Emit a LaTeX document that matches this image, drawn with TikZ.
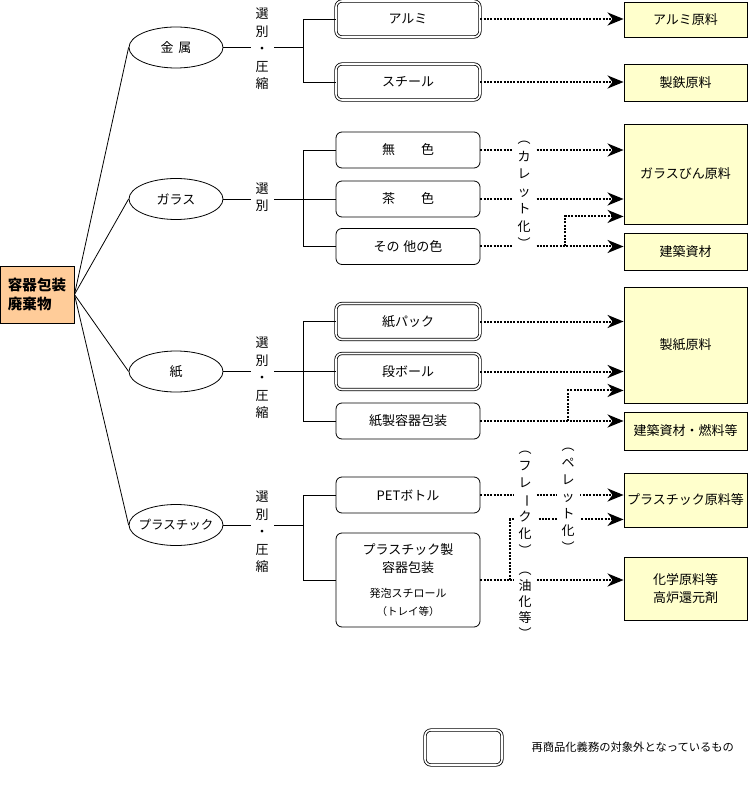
\documentclass[tikz,border=0pt]{standalone}
\usepackage{fontspec}
\setmainfont{Noto Sans CJK JP}
\usepackage{xcolor}
\usetikzlibrary{calc, shapes.geometric, positioning, arrows.meta}

\definecolor{rootorange}{HTML}{FFCC99}
\definecolor{goalyellow}{HTML}{FFFFCC}

\begin{document}
\begin{tikzpicture}[x=1pt, y=-1pt,
    font=\fontsize{13}{17.5}\selectfont,
    hub/.style={ellipse, draw, line width=0.8pt, inner sep=0pt,
        minimum width=94pt, minimum height=41pt},
    item/.style={draw, line width=0.8pt, rounded corners=6pt, inner sep=0pt,
        minimum width=144pt, minimum height=36pt, align=center},
    nosubsidy/.style={item, double, double distance=1.6pt},
    goal/.style={draw, line width=0.9pt, fill=goalyellow, inner sep=0pt,
        minimum width=123pt, align=center},
    vtext/.style={fill=white, inner xsep=5pt, inner ysep=0pt, align=center},
    link/.style={line width=0.8pt},
    flow/.style={line width=2pt, dash pattern=on 2pt off 1.3pt,
        -{Stealth[length=16pt, width=13pt, inset=5pt]}}]

    \useasboundingbox (0,0) rectangle (748,791);

    % =================================================================
    % 1. ROOT AND THE FOUR MATERIAL GROUPS
    % =================================================================
    \node[draw, line width=0.9pt, fill=rootorange, minimum width=74pt,
        minimum height=57pt, align=left, inner sep=3pt,
        font=\fontsize{14.5}{19}\selectfont\bfseries] (Root) at (37,294.5) {容器包装\\廃棄物};

    % ellipses are drawn empty, the text sits in a centre label
    \node[hub, label=center:{金\hspace{5pt}属}] (Metal) at (176,47.5) {};
    \node[hub, label=center:{ガラス}] (Glass) at (176,199) {};
    \node[hub, label=center:{紙}] (Paper) at (176,371.5) {};
    \node[hub, label={[font=\fontsize{12.5}{15}\selectfont]center:{プラスチック}}] (Plastic) at (176,525) {};

    \draw[link] (Root.east) -- (Metal.west);
    \draw[link] (Root.east) -- (Glass.west);
    \draw[link] (Root.east) -- (Paper.west);
    \draw[link] (Root.east) -- (Plastic.west);

    % =================================================================
    % 2. SORTED ITEMS (double frame = not subject to recycling duty)
    % =================================================================
    \node[nosubsidy] (Alumi) at (408,19) {アルミ};
    \node[nosubsidy] (Steel) at (408,82) {スチール};

    \node[item] (Clear) at (408,150) {無\hspace{26pt}色};
    \node[item] (Brown) at (408,199) {茶\hspace{26pt}色};
    \node[item] (Other) at (408,246.5) {その\hspace{4pt}他の色};

    \node[nosubsidy] (Carton) at (408,321.5) {紙パック};
    \node[nosubsidy] (Cardboard) at (408,371.5) {段ボール};
    \node[item] (PaperPack) at (408,421) {紙製容器包装};

    \node[item] (Pet) at (408,495) {PETボトル};
    \node[item, minimum height=94pt] (PlasticPack) at (408,580)
        {プラスチック製\\容器包装\\[8pt]{\fontsize{11}{16}\selectfont 発泡スチロール}\\{\fontsize{10.5}{16}\selectfont （トレイ等）}};

    % bus lines from each group to its items
    \coordinate (MetalBus) at (303,47.5);
    \coordinate (GlassBus) at (303,199);
    \coordinate (PaperBus) at (303,371.5);
    \coordinate (PlasticBus) at (303,525);

    \draw[link] (Metal.east) -- (MetalBus);
    \draw[link] (Alumi.west) -| (MetalBus);
    \draw[link] (Steel.west) -| (MetalBus);

    \draw[link] (Glass.east) -- (GlassBus);
    \draw[link] (Clear.west) -| (GlassBus);
    \draw[link] (Brown.west) -- (GlassBus);
    \draw[link] (Other.west) -| (GlassBus);

    \draw[link] (Paper.east) -- (PaperBus);
    \draw[link] (Carton.west) -| (PaperBus);
    \draw[link] (Cardboard.west) -- (PaperBus);
    \draw[link] (PaperPack.west) -| (PaperBus);

    \draw[link] (Plastic.east) -- (PlasticBus);
    \draw[link] (Pet.west) -| (PlasticBus);
    \draw[link] (PlasticPack.west) -| (PlasticBus);

    % =================================================================
    % 3. RECYCLED PRODUCTS
    % =================================================================
    \node[goal, minimum height=35pt] (AlumiGoal) at (685.5,19.5) {アルミ原料};
    \node[goal, minimum height=37pt] (SteelGoal) at (685.5,82.5) {製鉄原料};
    \node[goal, minimum height=100pt] (GlassGoal) at (685.5,174) {ガラスびん原料};
    \node[goal, minimum height=37pt] (BuildGoal) at (685.5,251.5) {建築資材};
    \node[goal, minimum height=116pt] (PaperGoal) at (685.5,345) {製紙原料};
    \node[goal, minimum height=38pt] (FuelGoal) at (685.5,431) {建築資材・燃料等};
    \node[goal, minimum height=54pt] (PlasticGoal) at (685.5,500) {プラスチック原料等};
    \node[goal, minimum height=63pt] (ChemGoal) at (685.5,588.5) {化学原料等\\高炉還元剤};

    % =================================================================
    % 4. DOTTED FLOWS
    % =================================================================
    \draw[flow] (Alumi.east) -- (Alumi.east -| AlumiGoal.west);
    \draw[flow] (Steel.east) -- (Steel.east -| SteelGoal.west);

    \draw[flow] (Clear.east) -- (Clear.east -| GlassGoal.west);
    \draw[flow] (Brown.east) -- (Brown.east -| GlassGoal.west);
    \draw[flow] (Other.east) -- (Other.east -| BuildGoal.west);
    \coordinate (GlassSplit) at (Other.east -| 565,0);
    \coordinate (GlassIn) at ($(GlassGoal.south west)+(0,-8)$);
    \draw[flow] (GlassSplit) |- (GlassIn);

    \draw[flow] (Carton.east) -- (Carton.east -| PaperGoal.west);
    \draw[flow] (Cardboard.east) -- (Cardboard.east -| PaperGoal.west);
    \draw[flow] (PaperPack.east) -- (PaperPack.east -| FuelGoal.west);
    \coordinate (PaperSplit) at (PaperPack.east -| 568,0);
    \coordinate (PaperIn) at ($(PaperGoal.south west)+(0,-13)$);
    \draw[flow] (PaperSplit) |- (PaperIn);

    \draw[flow] (Pet.east) -- (Pet.east -| PlasticGoal.west);
    \draw[flow] (PlasticPack.east) -- (PlasticPack.east -| ChemGoal.west);
    \coordinate (PlasticSplit) at (PlasticPack.east -| 510,0);
    \coordinate (PlasticIn) at ($(PlasticGoal.south west)+(0,-8)$);
    \draw[flow] (PlasticSplit) |- (PlasticIn);

    % =================================================================
    % 5. VERTICAL LABELS (white fill cuts the lines behind them)
    % =================================================================
    \node[vtext] (SortMetal) at (262,49) {選\\別\\・\\圧\\縮};
    \node[vtext] (SortGlass) at (262,197) {選\\別};
    \node[vtext] (SortPaper) at (262,378) {選\\別\\・\\圧\\縮};
    \node[vtext] (SortPlastic) at (262,532) {選\\別\\・\\圧\\縮};

    \node[vtext] (Cullet) at (524,195) {︵\\カ\\レ\\ッ\\ト\\化\\︶};
    \node[vtext, font=\fontsize{13}{17}\selectfont] (Flake) at (525,503)
        {︵\\フ\\レ\\\rotatebox[origin=c]{-90}{ー}\\ク\\化\\︶};
    \node[vtext, font=\fontsize{13}{17}\selectfont] (Pellet) at (568,500) {︵\\ペ\\レ\\ッ\\ト\\化\\︶};
    \node[vtext, font=\fontsize{13}{16}\selectfont] (Oil) at (525,605) {︵\\油\\化\\等\\︶};

    % =================================================================
    % 6. LEGEND
    % =================================================================
    \node[nosubsidy, minimum width=77pt, minimum height=35pt] (Legend) at (463.5,747.5) {};
    \node[anchor=west, font=\fontsize{11.3}{13}\selectfont] (LegendText) at (528,747.5)
        {再商品化義務の対象外となっているもの};

\end{tikzpicture}
\end{document}
